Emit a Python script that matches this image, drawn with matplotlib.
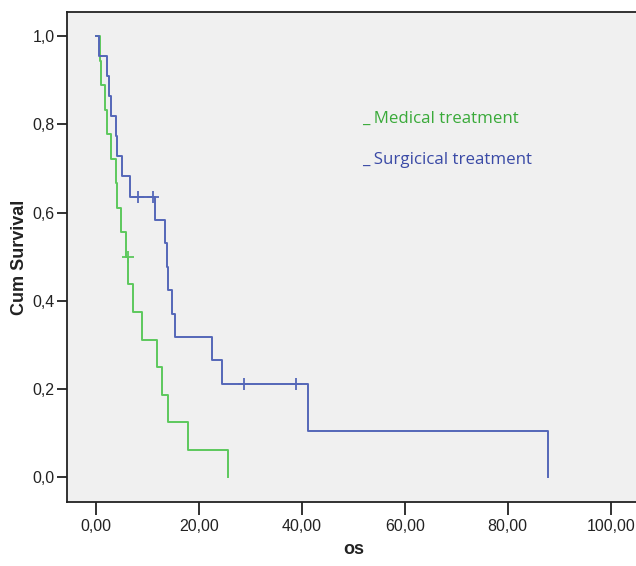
import numpy as np
import matplotlib.pyplot as plt

# survival times (os) and event flags (1 = death, 0 = censored)
medical_time = [0.7, 1.0, 1.8, 2.1, 2.9, 3.8, 4.1, 4.9, 5.8, 6.15, 6.3, 7.25,
                8.9, 11.85, 12.9, 14.05, 17.8, 25.7]
medical_event = [1, 1, 1, 1, 1, 1, 1, 1, 1, 0, 1, 1, 1, 1, 1, 1, 1, 1]
surgical_time = [0.6, 2.1, 2.6, 2.85, 3.8, 4.0, 5.0, 6.6, 8.2, 11.1, 11.45, 13.4,
                 13.7, 14.05, 14.8, 15.25, 22.5, 24.4, 28.8, 38.8, 41.1, 87.8]
surgical_event = [1, 1, 1, 1, 1, 1, 1, 1, 0, 0, 1, 1, 1, 1, 1, 1, 1, 1, 0, 0, 1, 1]

x_ticks = [0, 20, 40, 60, 80, 100]
y_ticks = [0.0, 0.2, 0.4, 0.6, 0.8, 1.0]

green_line = '#5cc85c'
blue_line = '#5467b8'
green_text = '#3aaa3a'
blue_text = '#3a4aa6'
axis_font = ['Liberation Sans Narrow', 'Liberation Sans', 'DejaVu Sans']


def kaplan_meier(times, events):
    order = np.argsort(times, kind='stable')
    t = np.asarray(times)[order]
    e = np.asarray(events)[order]
    at_risk = len(t)
    s = 1.0
    xs, ys = [0.0], [1.0]
    cx, cy = [], []
    for ti, ei in zip(t, e):
        if ei:
            s *= (at_risk - 1) / at_risk
            xs.append(ti)
            ys.append(s)
        else:
            cx.append(ti)
            cy.append(s)
        at_risk -= 1
    return xs, ys, cx, cy


fig = plt.figure(figsize=(6.36, 5.66), dpi=100)
ax = fig.add_axes([67 / 636, 64 / 566, 573 / 636, 490 / 566])
ax.set_facecolor('#f0f0f0')

for times, events, col in [(medical_time, medical_event, green_line),
                           (surgical_time, surgical_event, blue_line)]:
    xs, ys, cx, cy = kaplan_meier(times, events)
    ax.step(xs, ys, where='post', color=col, lw=1.4)
    ax.plot(cx, cy, linestyle='none', marker='+', markersize=9, mew=1.3, color=col)

ax.set_xlim(-5.64, 105.7)
ax.set_ylim(-0.0555, 1.0544)

ax.set_xticks(x_ticks)
ax.set_xticklabels([f'{v:.2f}'.replace('.', ',') for v in x_ticks], family=axis_font)
ax.set_yticks(y_ticks)
ax.set_yticklabels([f'{v:.1f}'.replace('.', ',') for v in y_ticks], family=axis_font)
ax.tick_params(axis='x', length=9, width=1.3, pad=3, labelsize=11.5, colors='#222222')
ax.tick_params(axis='y', length=7, width=1.3, pad=2, labelsize=11.5, colors='#222222')
for sp in ax.spines.values():
    sp.set_linewidth(1.3)
    sp.set_color('#222222')

ax.set_xlabel('os', fontsize=13, fontweight='bold', labelpad=5, color='#222222',
              family=['Liberation Sans', 'DejaVu Sans'])
ax.set_ylabel('Cum Survival', fontsize=13, fontweight='bold', labelpad=3, color='#222222',
              family=['Liberation Sans', 'DejaVu Sans'])

fig.text(362 / 636, 1 - 123 / 566, '_ Medical treatment', fontsize=12.2,
         family='Open Sans', color=green_text, va='baseline')
fig.text(362 / 636, 1 - 164 / 566, '_ Surgicical treatment', fontsize=12.2,
         family='Open Sans', color=blue_text, va='baseline')

fig.savefig('out.png', dpi=100)
